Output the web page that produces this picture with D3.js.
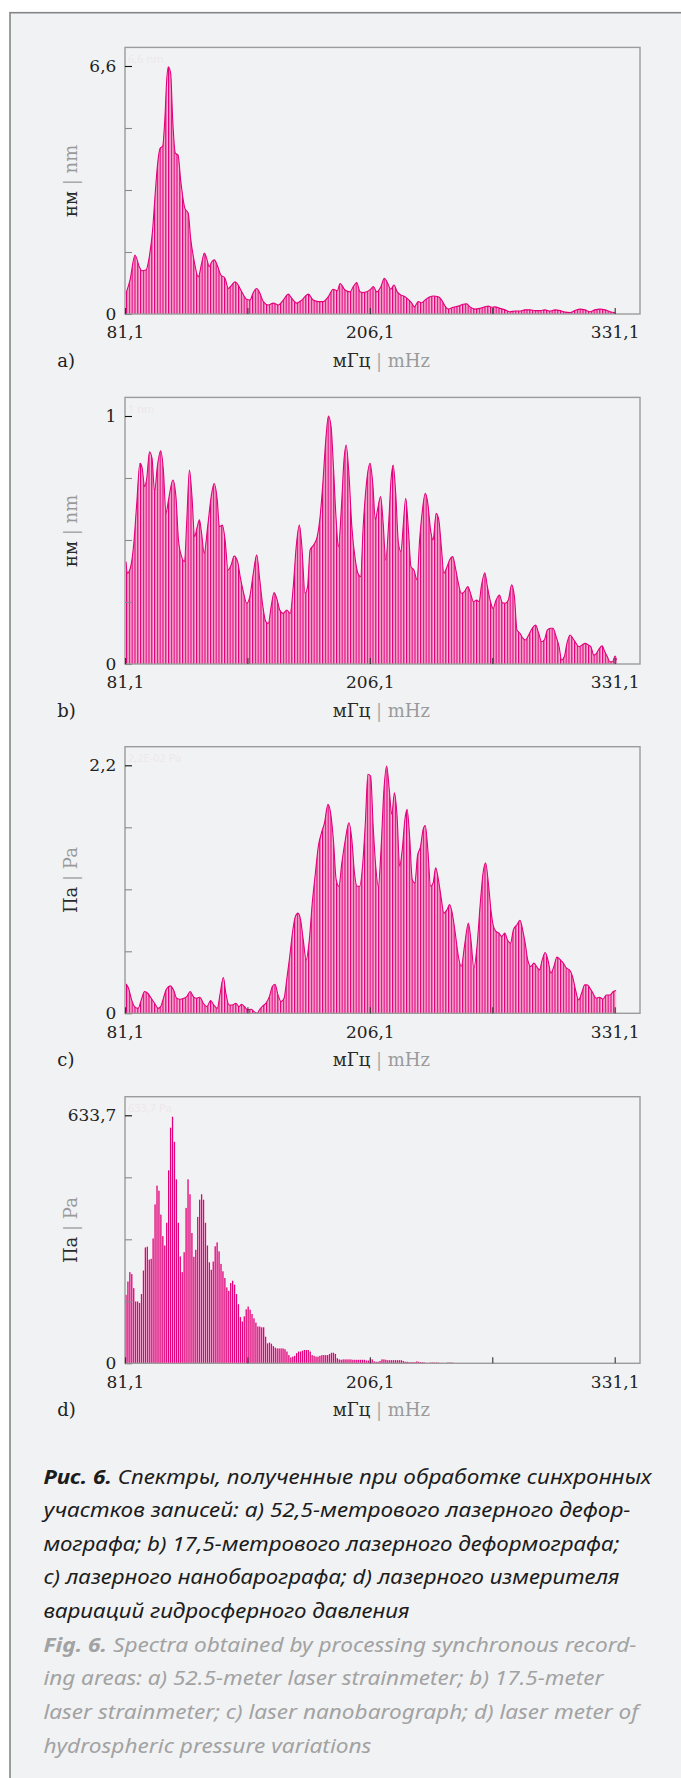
<!DOCTYPE html>
<html>
<head>
<meta charset="utf-8">
<script src="https://cdnjs.cloudflare.com/ajax/libs/d3/7.8.5/d3.min.js"></script>
<style>
  body { margin: 0; background: #fff; }
  svg { display: block; }
</style>
</head>
<body>
<div id="chart"></div>
<script>
// a) 52,5 m laser strainmeter, nm (digitised envelope: frequency mHz / amplitude)
var freqA = [81.6, 83.65, 86.2, 88.4, 89.6, 91.8, 93.5, 95.2, 96.4, 97.6,
  99.0, 100.35, 101.5, 102.4, 103.2, 104.4, 105.45, 106.8, 108.2, 109.5,
  111.7, 113.4, 114.6, 116.5, 118.5, 120.3, 121.6, 122.8, 124.1, 125.4,
  126.7, 128.2, 130.0, 132.15, 133.85, 135.6, 137.3, 138.9, 140.7, 143.2,
  144.9, 146.6, 148.3, 150.0, 151.7, 154.3, 156.8, 159.4, 161.9, 164.5,
  166.2, 168.75, 171.3, 174.7, 177.2, 179.8, 182.3, 184.9, 187.4, 189.5,
  190.9, 193.4, 196.0, 197.65, 199.4, 201.1, 202.45, 204.5, 206.5, 207.9,
  209.6, 211.6, 213.5, 215.2, 216.75, 218.4, 220.1, 221.85, 224.05, 225.7,
  227.5, 228.8, 230.8, 232.6, 234.2, 236.8, 238.5, 241.05, 242.8, 244.5,
  246.15, 248.7, 251.25, 253.8, 255.55, 257.2, 259.8, 262.35, 264.9, 266.6,
  268.3, 270.0, 272.55, 275.1, 277.65, 280.2, 282.75, 285.3, 287.9, 290.4,
  293.0, 295.5, 298.1, 300.6, 303.2, 305.7, 308.3, 310.8, 313.4, 315.9,
  318.5, 321.0, 323.6, 326.15, 328.7, 331.25];
var ampA = [0.55, 0.9, 1.57, 1.26, 1.15, 1.17, 1.52, 2.24, 3.12, 3.92,
  4.41, 4.47, 5.25, 6.23, 6.58, 6.41, 5.16, 4.28, 4.23, 3.57,
  2.81, 2.68, 2.02, 1.39, 0.99, 1.37, 1.62, 1.48, 1.26, 1.39,
  1.44, 1.3, 1.04, 0.95, 0.68, 0.77, 0.86, 0.77, 0.59, 0.39,
  0.37, 0.57, 0.68, 0.55, 0.33, 0.24, 0.29, 0.24, 0.37, 0.53,
  0.42, 0.29, 0.37, 0.53, 0.37, 0.33, 0.33, 0.46, 0.66, 0.62,
  0.81, 0.64, 0.59, 0.73, 0.84, 0.59, 0.57, 0.59, 0.66, 0.73,
  0.59, 0.71, 0.95, 0.82, 0.66, 0.77, 0.59, 0.51, 0.46, 0.39,
  0.29, 0.19, 0.33, 0.3, 0.37, 0.46, 0.48, 0.46, 0.37, 0.21,
  0.13, 0.18, 0.21, 0.26, 0.27, 0.19, 0.13, 0.15, 0.19, 0.21,
  0.18, 0.19, 0.15, 0.11, 0.06, 0.08, 0.08, 0.11, 0.11, 0.09,
  0.09, 0.11, 0.08, 0.11, 0.09, 0.05, 0.04, 0.09, 0.13, 0.11,
  0.06, 0.11, 0.13, 0.11, 0.06, 0.04];

// b) 17,5 m laser strainmeter, nm
var freqB = [81.6, 82.3, 83.8, 85.6, 87.1, 88.7, 89.8, 91.1, 92.2, 93.6,
  94.9, 96.2, 97.6, 99.3, 100.7, 102.0, 103.3, 105.55, 107.1, 108.4,
  110.0, 111.5, 112.65, 114.0, 115.3, 116.6, 118.0, 119.1, 120.2, 121.5,
  123.3, 125.1, 126.6, 128.2, 129.3, 130.8, 132.2, 133.7, 135.3, 136.8,
  138.6, 139.9, 141.5, 143.25, 144.8, 146.6, 148.35, 149.9, 151.5, 153.0,
  154.3, 155.7, 157.2, 158.8, 160.1, 161.9, 163.7, 165.4, 167.0, 168.5,
  170.1, 171.4, 173.0, 174.3, 175.6, 177.4, 179.2, 180.7, 182.1, 183.6,
  184.95, 186.3, 187.6, 188.9, 190.05, 191.6, 192.9, 194.0, 195.4, 196.9,
  198.7, 200.0, 201.4, 202.7, 204.2, 206.2, 207.6, 208.9, 210.0, 211.6,
  212.9, 214.2, 215.8, 216.9, 218.0, 219.3, 220.7, 222.0, 223.1, 224.4,
  225.8, 227.1, 228.6, 230.2, 231.5, 232.85, 234.4, 235.7, 237.1, 238.4,
  239.95, 241.3, 242.6, 243.9, 245.5, 246.8, 248.4, 249.7, 251.3, 252.8,
  254.4, 256.1, 257.5, 259.0, 260.6, 261.9, 263.0, 264.8, 266.1, 267.7,
  269.0, 270.55, 272.3, 273.7, 275.2, 276.8, 278.5, 279.9, 281.2, 282.75,
  284.3, 285.6, 287.2, 289.0, 290.7, 292.3, 293.8, 295.2, 296.7, 298.3,
  299.6, 301.2, 302.7, 304.0, 305.4, 306.7, 308.3, 309.8, 311.4, 312.9,
  314.5, 316.0, 317.6, 318.9, 320.45, 321.8, 323.3, 324.7, 326.0, 327.3,
  328.7, 330.0, 331.3, 332.0];
var ampB = [0.413, 0.366, 0.386, 0.487, 0.648, 0.809, 0.793, 0.715, 0.749, 0.856,
  0.829, 0.695, 0.796, 0.86, 0.782, 0.608, 0.661, 0.742, 0.675, 0.5,
  0.433, 0.413, 0.581, 0.782, 0.675, 0.513, 0.554, 0.581, 0.527, 0.446,
  0.554, 0.675, 0.728, 0.661, 0.554, 0.56, 0.5, 0.379, 0.399, 0.435,
  0.413, 0.352, 0.292, 0.245, 0.271, 0.366, 0.44, 0.339, 0.231, 0.171,
  0.164, 0.231, 0.288, 0.258, 0.218, 0.204, 0.218, 0.204, 0.312, 0.473,
  0.56, 0.473, 0.285, 0.312, 0.46, 0.48, 0.513, 0.594, 0.728, 0.903,
  1.0, 0.957, 0.782, 0.581, 0.473, 0.634, 0.823, 0.883, 0.769, 0.554,
  0.419, 0.366, 0.352, 0.554, 0.715, 0.809, 0.728, 0.581, 0.621, 0.675,
  0.567, 0.419, 0.581, 0.742, 0.802, 0.688, 0.487, 0.453, 0.554, 0.668,
  0.54, 0.392, 0.379, 0.339, 0.5, 0.614, 0.688, 0.648, 0.54, 0.5,
  0.608, 0.581, 0.473, 0.366, 0.392, 0.419, 0.433, 0.392, 0.325, 0.285,
  0.292, 0.312, 0.285, 0.251, 0.258, 0.251, 0.312, 0.368, 0.312, 0.251,
  0.224, 0.258, 0.278, 0.247, 0.245, 0.258, 0.319, 0.272, 0.137, 0.124,
  0.103, 0.097, 0.117, 0.144, 0.157, 0.124, 0.09, 0.097, 0.137, 0.144,
  0.144, 0.11, 0.07, 0.016, 0.03, 0.083, 0.117, 0.103, 0.083, 0.07,
  0.077, 0.083, 0.077, 0.07, 0.036, 0.043, 0.063, 0.073, 0.05, 0.03,
  0.009, 0.009, 0.032, 0.016];

// c) laser nanobarograph, Pa
var freqC = [81.6, 82.9, 84.5, 86.0, 87.8, 89.4, 91.1, 92.7, 94.5, 96.2,
  98.0, 99.3, 100.7, 102.2, 104.2, 106.0, 107.5, 109.3, 111.1, 112.6,
  114.4, 116.0, 117.5, 119.3, 121.1, 122.85, 124.85, 126.4, 128.2, 129.7,
  131.3, 132.6, 134.2, 135.9, 137.7, 139.3, 140.6, 142.1, 143.7, 145.5,
  147.0, 148.6, 149.9, 151.5, 153.0, 154.8, 156.3, 157.7, 159.2, 160.8,
  162.3, 163.65, 165.2, 166.8, 168.1, 169.4, 170.75, 172.1, 173.6, 175.2,
  176.7, 178.3, 179.8, 181.4, 182.95, 184.7, 186.3, 187.6, 188.9, 190.3,
  191.8, 193.6, 195.4, 196.9, 198.25, 199.6, 200.9, 202.5, 203.8, 205.1,
  206.5, 207.8, 209.1, 210.45, 211.8, 213.3, 214.7, 216.0, 217.3, 218.65,
  220.0, 221.3, 222.65, 224.0, 225.1, 226.4, 227.75, 229.1, 230.4, 232.0,
  233.3, 234.4, 235.7, 237.1, 238.4, 239.7, 241.1, 242.4, 243.9, 245.5,
  246.8, 248.15, 249.7, 251.3, 252.8, 254.4, 256.4, 257.7, 259.2, 260.8,
  262.35, 263.9, 265.2, 266.6, 267.9, 269.2, 270.55, 271.9, 273.4, 275.0,
  276.3, 277.9, 279.4, 281.2, 282.75, 284.1, 285.4, 286.7, 288.3, 289.85,
  291.2, 292.7, 294.1, 295.6, 297.2, 298.5, 300.05, 301.6, 303.4, 304.9,
  306.5, 308.0, 309.6, 311.1, 312.7, 314.2, 315.8, 317.1, 318.5, 320.0,
  321.6, 323.3, 325.1, 326.9, 328.7, 330.4, 331.8];
var ampC = [0.261, 0.222, 0.119, 0.059, 0.044, 0.119, 0.193, 0.178, 0.133, 0.089,
  0.044, 0.059, 0.133, 0.213, 0.243, 0.202, 0.133, 0.125, 0.133, 0.148,
  0.193, 0.148, 0.133, 0.142, 0.089, 0.059, 0.113, 0.074, 0.044, 0.178,
  0.317, 0.178, 0.074, 0.074, 0.089, 0.059, 0.08, 0.059, 0.03, 0.036,
  0.015, 0, 0.036, 0.065, 0.089, 0.148, 0.237, 0.258, 0.163, 0.104,
  0.133, 0.296, 0.504, 0.741, 0.86, 0.889, 0.83, 0.652, 0.474, 0.652,
  0.978, 1.245, 1.482, 1.601, 1.69, 1.853, 1.749, 1.512, 1.186, 1.127,
  1.334, 1.542, 1.69, 1.542, 1.245, 1.127, 1.127, 1.334, 1.69, 2.12,
  2.105, 1.66, 1.305, 1.127, 1.453, 1.987, 2.194, 1.987, 1.764, 1.957,
  1.749, 1.305, 1.453, 1.72, 1.809, 1.571, 1.186, 1.156, 1.394, 1.482,
  1.631, 1.666, 1.453, 1.127, 1.156, 1.29, 1.186, 1.038, 0.889, 0.919,
  0.964, 0.889, 0.712, 0.504, 0.415, 0.593, 0.801, 0.652, 0.4, 0.593,
  0.949, 1.245, 1.334, 1.156, 0.919, 0.771, 0.726, 0.712, 0.682, 0.712,
  0.652, 0.623, 0.741, 0.786, 0.824, 0.741, 0.623, 0.474, 0.415, 0.445,
  0.415, 0.385, 0.474, 0.54, 0.46, 0.356, 0.415, 0.498, 0.474, 0.445,
  0.4, 0.385, 0.326, 0.208, 0.119, 0.178, 0.252, 0.252, 0.222, 0.178,
  0.133, 0.142, 0.125, 0.163, 0.163, 0.193, 0.202];

// d) hydrospheric pressure meter, Pa (one bar per spectral line)
var freqDStart = 81.6, freqDStep = 0.99;
var ampD = [175, 209, 233, 228, 192, 158, 158, 154, 177, 237,
  296, 298, 265, 267, 319, 406, 454, 441, 380, 325,
  301, 359, 493, 602, 630, 566, 470, 359, 273, 233,
  284, 397, 470, 432, 333, 272, 290, 374, 418, 432,
  418, 359, 301, 258, 239, 260, 299, 309, 286, 254,
  235, 218, 194, 185, 205, 211, 201, 177, 151, 118,
  107, 120, 138, 145, 137, 126, 115,
  104, 94, 94, 92, 92, 68, 51, 53, 50, 44,
  40, 38, 38, 38, 38, 36, 30, 21, 15, 17,
  19, 26, 30, 30, 32, 34, 34, 34, 30, 21,
  19, 17, 17, 19, 21, 21, 21, 21, 24, 27,
  27, 24, 13, 10, 9, 10, 10, 10, 10, 10,
  9, 9, 9, 9, 9, 9, 9, 7, 7, 10,
  10, 5, 4, 4, 6, 10, 10, 9, 8, 8,
  8, 8, 8, 8, 8, 8, 6, 4, 4, 3,
  3, 3, 3, 5, 4, 3, 3, 2, 1, 1,
  2, 2, 2, 2, 2, 1, 1, 1, 1, 2,
  2, 2, 1];

var panelLetters = ["a)", "b)", "c)", "d)"];
var yMax = [6.6, 1, 2.2, 633.7];
var yTickLabels = ["6,6", "1", "2,2", "633,7"];
var unitsRu = ["нм", "нм", "Па", "Па"];
var unitsEn = ["nm", "nm", "Pa", "Pa"];
var faintLabels = ["6,6 nm", "1 nm", "2,2E-02 Pa", "633,7 Pa"];
var xTicks = [81.1, 143.6, 206.1, 268.6, 331.1];
var xTickLabels = ["81,1", "", "206,1", "", "331,1"];

var captionRu = [
  ["Рис. 6. ", "Спектры, полученные при обработке синхронных"],
  ["", "участков записей: a) 52,5-метрового лазерного дефор-"],
  ["", "мографа; b) 17,5-метрового лазерного деформографа;"],
  ["", "c) лазерного нанобарографа; d) лазерного измерителя"],
  ["", "вариаций гидросферного давления"]
];
var captionEn = [
  ["Fig. 6. ", "Spectra obtained by processing synchronous record-"],
  ["", "ing areas: a) 52.5-meter laser strainmeter; b) 17.5-meter"],
  ["", "laser strainmeter; c) laser nanobarograph; d) laser meter of"],
  ["", "hydrospheric pressure variations"]
];
var captionWidths = [608, 587, 576, 576, 366, 593, 560, 595, 328];

var svgWidth = 681;
var svgHeight = 1778;

var svg = d3.select("#chart")
  .append("svg")
  .attr("width", svgWidth)
  .attr("height", svgHeight);

// stripe pattern that gives the dense bar look of the spectra
var pat = svg.append("defs").append("pattern")
  .attr("id", "stripes")
  .attr("patternUnits", "userSpaceOnUse")
  .attr("width", 2.8)
  .attr("height", 10);
pat.append("rect").attr("width", 2.8).attr("height", 10).attr("fill", "#fbe6f0");
pat.append("rect").attr("width", 1.3).attr("height", 10).attr("fill", "#e10079");
pat.append("rect").attr("x", 1.3).attr("width", 0.9).attr("height", 10).attr("fill", "#ee6fae");

// grey page frame
svg.append("rect")
  .attr("x", 10).attr("y", 12.7)
  .attr("width", 700).attr("height", 1800)
  .attr("fill", "#f1f2f4")
  .attr("stroke", "#858585")
  .attr("stroke-width", 1.6);

var plotLeft = 125, plotRight = 640;
var plotHeight = 248, boxPad = 18.6;
var zeros = [314, 664, 1013.3, 1363.3];

var xScale = d3.scaleLinear()
  .domain([81.1, 331.1])
  .range([plotLeft, 614.7]);

var series = [
  {freq: freqA, amp: ampA},
  {freq: freqB, amp: ampB},
  {freq: freqC, amp: ampC},
  null
];

var serif = "'DejaVu Serif', 'Liberation Serif', serif";

series.forEach(function(s, i) {
  var zero = zeros[i];
  var yScale = d3.scaleLinear()
    .domain([0, yMax[i]])
    .range([zero, zero - plotHeight]);

  var g = svg.append("g");

  // almost invisible value note in the plot corner
  g.append("text")
    .attr("x", plotLeft + 3)
    .attr("y", zero - plotHeight - 3)
    .attr("font-family", "'Noto Sans', sans-serif")
    .attr("font-size", 11)
    .attr("fill", "#eee7eb")
    .text(faintLabels[i]);

  if (s) {
    var pts = s.freq.map(function(f, k) { return [f, s.amp[k]]; });
    var area = d3.area()
      .x(function(d) { return xScale(d[0]); })
      .y0(zero)
      .y1(function(d) { return yScale(d[1]); })
      .curve(d3.curveMonotoneX);
    var line = d3.line()
      .x(function(d) { return xScale(d[0]); })
      .y(function(d) { return yScale(d[1]); })
      .curve(d3.curveMonotoneX);
    g.append("path").datum(pts).attr("d", area).attr("fill", "url(#stripes)");
    g.append("path").datum(pts).attr("d", line)
      .attr("fill", "none")
      .attr("stroke", "#e3007b")
      .attr("stroke-width", 1.1);
  } else {
    g.selectAll("rect.bar")
      .data(ampD)
      .join("rect")
      .attr("class", "bar")
      .attr("x", function(d, k) { return xScale(freqDStart + k * freqDStep) - 0.65; })
      .attr("width", 1.3)
      .attr("y", function(d) { return yScale(d); })
      .attr("height", function(d) { return zero - yScale(d); })
      .attr("fill", "#e3007b");
  }

  // plot box
  g.append("rect")
    .attr("x", plotLeft)
    .attr("y", zero - plotHeight - boxPad)
    .attr("width", plotRight - plotLeft)
    .attr("height", plotHeight + boxPad)
    .attr("fill", "none")
    .attr("stroke", "#9c9c9c")
    .attr("stroke-width", 1.4);

  var leftAxis = d3.axisLeft(yScale)
    .tickValues([0, 1, 2, 3, 4].map(function(k) { return yMax[i] * k / 4; }))
    .tickSizeInner(-7)
    .tickSizeOuter(0)
    .tickPadding(8.6)
    .tickFormat(function(d, k) { return k === 0 ? "0" : (k === 4 ? yTickLabels[i] : ""); });

  var ya = g.append("g")
    .attr("transform", `translate(${plotLeft}, 0)`)
    .call(leftAxis);
  ya.select(".domain").remove();
  ya.selectAll("line")
    .attr("stroke", function(d, k) { return k === 4 ? "#111" : "#8a8a8a"; })
    .attr("stroke-width", 1.1);
  ya.selectAll("text")
    .attr("font-family", serif)
    .attr("font-size", 17)
    .attr("fill", "#222");

  var bottomAxis = d3.axisBottom(xScale)
    .tickValues(xTicks)
    .tickSizeInner(-6)
    .tickSizeOuter(0)
    .tickPadding(12.2)
    .tickFormat(function(d, k) { return xTickLabels[k]; });

  var xa = g.append("g")
    .attr("transform", `translate(0, ${zero})`)
    .call(bottomAxis);
  xa.select(".domain").remove();
  xa.selectAll("line").attr("stroke", "#333").attr("stroke-width", 1.1);
  xa.selectAll("text")
    .attr("font-family", serif)
    .attr("font-size", 17)
    .attr("fill", "#222");

  // y axis title
  var yt = g.append("text")
    .attr("transform", `translate(77.3, ${zero - 133.2}) rotate(-90)`)
    .attr("text-anchor", "middle")
    .attr("font-family", serif)
    .attr("font-size", 18);
  yt.append("tspan").attr("fill", "#2a2a2a").text(unitsRu[i]);
  yt.append("tspan").attr("fill", "#aaa").text(" | ");
  yt.append("tspan").attr("fill", "#9a9a9a").text(unitsEn[i]);

  // x axis title
  var xt = g.append("text")
    .attr("x", 381.4)
    .attr("y", zero + 53)
    .attr("text-anchor", "middle")
    .attr("font-family", serif)
    .attr("font-size", 18);
  xt.append("tspan").attr("fill", "#2a2a2a").text("мГц");
  xt.append("tspan").attr("fill", "#aaa").text(" | ");
  xt.append("tspan").attr("fill", "#9a9a9a").text("mHz");

  g.append("text")
    .attr("x", 57.3)
    .attr("y", zero + 53)
    .attr("font-family", serif)
    .attr("font-size", 18)
    .attr("fill", "#222")
    .text(panelLetters[i]);
});

// caption
var capLines = captionRu.map(function(l) { return {bold: l[0], text: l[1], color: "#1c1c1c"}; })
  .concat(captionEn.map(function(l) { return {bold: l[0], text: l[1], color: "#a2a2a2"}; }));

capLines.forEach(function(l, k) {
  var t = svg.append("text")
    .attr("x", 43.4)
    .attr("y", 1483.5 + k * 33.65)
    .attr("font-family", "'Noto Sans', 'Open Sans', sans-serif")
    .attr("font-style", "italic")
    .attr("font-size", 20)
    .attr("fill", l.color)
    .attr("textLength", captionWidths[k])
    .attr("lengthAdjust", "spacingAndGlyphs");
  if (l.bold) t.append("tspan").attr("font-weight", "bold").text(l.bold);
  t.append("tspan").text(l.text);
});
</script>
</body>
</html>
